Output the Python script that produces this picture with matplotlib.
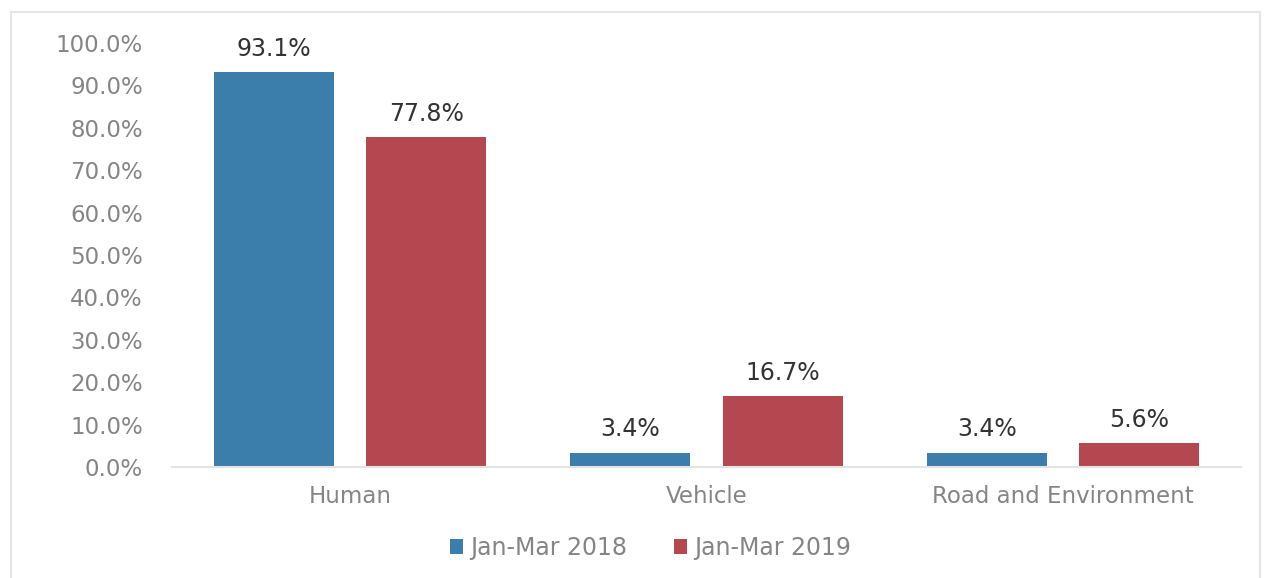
import numpy as np
import matplotlib.pyplot as plt
from matplotlib.patches import Rectangle

categories = ["Human", "Vehicle", "Road and Environment"]
series_names = ["Jan-Mar 2018", "Jan-Mar 2019"]
jan_mar_2018 = [93.1, 3.4, 3.4]
jan_mar_2019 = [77.8, 16.7, 5.6]
yticks = [0, 10, 20, 30, 40, 50, 60, 70, 80, 90, 100]

BLUE = "#3b7dab"
RED = "#b4474f"
GRAY = "#858585"

fig = plt.figure(figsize=(12.71, 5.78), dpi=100)
fig.patches.append(Rectangle((0.009, -0.01), 0.982, 0.99, transform=fig.transFigure,
                             fill=False, edgecolor="#e6e6e6", linewidth=1.5))
ax = fig.add_axes([0.1353, 0.192, 0.8411, 0.7336])

x = np.arange(len(categories))
w = 0.337
off = 0.2135
b1 = ax.bar(x - off, jan_mar_2018, w, color=BLUE, label=series_names[0])
b2 = ax.bar(x + off, jan_mar_2019, w, color=RED, label=series_names[1])

for bars, vals in [(b1, jan_mar_2018), (b2, jan_mar_2019)]:
    for rect, v in zip(bars, vals):
        ax.annotate("%.1f%%" % v, (rect.get_x() + rect.get_width() / 2, v),
                    xytext=(0, 8), textcoords="offset points", ha="center",
                    va="bottom", fontsize=17, color="#333333")

ax.set_xlim(-0.5, 2.5)
ax.set_ylim(0, 100)
ax.set_yticks(yticks)
ax.set_yticklabels(["%.1f%%" % t for t in yticks], fontsize=16.5, color=GRAY)
ax.set_xticks(x)
ax.set_xticklabels(categories, fontsize=16.5, color=GRAY)
ax.tick_params(axis="y", length=0, pad=21)
ax.tick_params(axis="x", length=0, pad=13)
for s in ["top", "right", "left"]:
    ax.spines[s].set_visible(False)
ax.spines["bottom"].set_color("#e3e3e3")
ax.spines["bottom"].set_linewidth(1.5)

leg = fig.legend(loc="center", bbox_to_anchor=(0.512, 0.052), ncol=2, frameon=False,
                 fontsize=17, handlelength=0.55, handleheight=0.55, handletextpad=0.3,
                 columnspacing=2.0)
for t in leg.get_texts():
    t.set_color(GRAY)

fig.savefig("out.png", dpi=100)
